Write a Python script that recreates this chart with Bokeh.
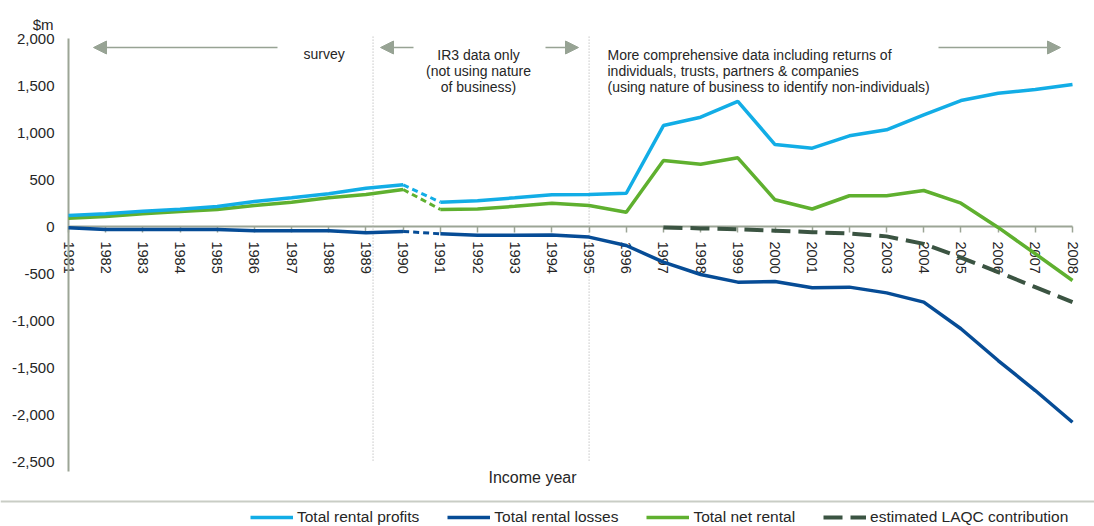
from bokeh.plotting import figure
from bokeh.models import (LinearAxis, Range1d, FixedTicker, NumeralTickFormatter, Label,
                          Arrow, NormalHead, Legend, LegendItem, Span)
from bokeh.embed import file_html
from bokeh.resources import INLINE

# ---------------- data ----------------
years = list(range(1981, 2009))
year_labels = [str(y) for y in years]
profits = [117, 135, 163, 184, 213, 266, 305, 348, 408, 443,
           259, 275, 305, 337, 340, 354, 1074, 1163, 1330, 872, 833, 965,
           1029, 1188, 1340, 1418, 1457, 1511]
losses = [-14, -32, -32, -32, -32, -46, -46, -46, -67, -53,
          -78, -93, -93, -91, -113, -202, -379, -511, -592, -585, -652, -645,
          -706, -805, -1088, -1426, -1745, -2082]
net = [89, 106, 135, 160, 181, 223, 259, 305, 340, 394,
       181, 185, 215, 248, 223, 152, 702, 663, 731, 284, 186, 327,
       327, 383, 248, -10, -290, -574]
laqc_years = list(range(1997, 2009))
laqc = [-10, -20, -30, -45, -60, -75, -105, -185, -330, -485, -645, -805]
y_ticks = list(range(-2500, 2001, 500))
period_breaks = [1989.19, 1995.0]

# ---------------- geometry (canvas <-> data) ----------------
W, H = 1094, 526
PX_PER_YEAR = (1072 - 68) / 27.0
PX_PER_UNIT = 0.094
x0 = 1981 - 68 / PX_PER_YEAR
x1 = x0 + W / PX_PER_YEAR
y_top = 226 / PX_PER_UNIT
y_bot = y_top - H / PX_PER_UNIT


def X(px):
    return x0 + px / PX_PER_YEAR


def Y(py):
    return y_top - py / PX_PER_UNIT


FONT = "Liberation Sans"
TXT = "#262626"
AXIS = "#9ca596"
ARROW = "#97a394"
C_PROF = "#12ade6"
C_LOSS = "#064c96"
C_NET = "#5fb02f"
C_LAQC = "#3b5442"

p = figure(width=W, height=H, x_range=Range1d(x0, x1), y_range=Range1d(y_bot, y_top),
           x_axis_type=None, y_axis_type=None, toolbar_location=None,
           output_backend="svg", min_border=0, outline_line_color=None)
p.min_border_left = p.min_border_right = p.min_border_top = p.min_border_bottom = 0
p.xgrid.visible = False
p.ygrid.visible = False

# axes
yaxis = LinearAxis(fixed_location=1981, bounds=(-2610, 2000),
                   ticker=FixedTicker(ticks=y_ticks),
                   formatter=NumeralTickFormatter(format="0,0"))
yaxis.axis_line_color = AXIS
yaxis.axis_line_width = 2
yaxis.major_tick_line_color = None
yaxis.minor_tick_line_color = None
yaxis.major_tick_out = 0
yaxis.major_tick_in = 0
yaxis.major_label_standoff = 14
yaxis.major_label_text_font = FONT
yaxis.major_label_text_font_size = "15px"
yaxis.major_label_text_color = TXT
yaxis.level = "underlay"
p.add_layout(yaxis, "left")

xaxis = LinearAxis(fixed_location=0, bounds=(1981, 2008),
                   ticker=FixedTicker(ticks=years),
                   major_label_overrides={y: s for y, s in zip(years, year_labels)})
xaxis.axis_line_color = AXIS
xaxis.axis_line_width = 2
xaxis.major_tick_line_color = AXIS
xaxis.major_tick_line_width = 1.5
xaxis.minor_tick_line_color = None
xaxis.major_tick_out = 6
xaxis.major_tick_in = 0
xaxis.major_label_standoff = 9
xaxis.major_label_orientation = "vertical"
xaxis.major_label_text_font = FONT
xaxis.major_label_text_font_size = "14.5px"
xaxis.major_label_text_color = TXT
xaxis.level = "underlay"
p.add_layout(xaxis, "below")

# period separators
p.segment(x0=period_breaks, y0=[2020] * 2, x1=period_breaks, y1=[-2500] * 2,
          line_color="#a9a9a9", line_width=1, line_dash="1 2")

# series
A, B = slice(0, 10), slice(10, None)
D = slice(9, 11)
r_laqc = p.line(laqc_years, laqc, line_color=C_LAQC, line_width=4, line_dash="19 8")
r_net = p.line(years[A], net[A], line_color=C_NET, line_width=3.5)
p.line(years[B], net[B], line_color=C_NET, line_width=3.5)
p.line(years[D], net[D], line_color=C_NET, line_width=3, line_dash="6 4")
r_prof = p.line(years[A], profits[A], line_color=C_PROF, line_width=3.5)
p.line(years[B], profits[B], line_color=C_PROF, line_width=3.5)
p.line(years[D], profits[D], line_color=C_PROF, line_width=3, line_dash="6 4")
r_loss = p.line(years[A], losses[A], line_color=C_LOSS, line_width=3.5)
p.line(years[B], losses[B], line_color=C_LOSS, line_width=3.5)
p.line(years[D], losses[D], line_color=C_LOSS, line_width=3, line_dash="6 4")

# arrows
head = dict(size=13, fill_color=ARROW, line_color=ARROW)
for xs, xe in [(277, 93), (413, 380), (545, 578), (938, 1060)]:
    p.add_layout(Arrow(end=NormalHead(**head), x_start=X(xs), y_start=Y(47),
                       x_end=X(xe), y_end=Y(47), line_color=ARROW, line_width=1.5))


def lab(text, px, py, align="left", size="14px"):
    p.add_layout(Label(x=X(px), y=Y(py), text=text, text_align=align,
                       text_baseline="alphabetic", text_font=FONT,
                       text_font_size=size, text_color=TXT))


lab("$m", 53, 24, "right", "15px")
lab("survey", 303, 53)
lab("IR3 data only", 478, 54, "center")
lab("(not using nature", 478, 70, "center")
lab("of business)", 478, 86.5, "center")
lab("More comprehensive data including returns of", 607, 54)
lab("individuals, trusts, partners & companies", 607, 70)
lab("(using nature of business to identify non-individuals)", 607, 86)
lab("Income year", 532, 477, "center", "16px")

# separator above legend
p.add_layout(Span(location=Y(501), dimension="width", line_color="#c9cdc5", line_width=2))

legend = Legend(items=[LegendItem(label="Total rental profits", renderers=[r_prof]),
                       LegendItem(label="Total rental losses", renderers=[r_loss]),
                       LegendItem(label="Total net rental", renderers=[r_net]),
                       LegendItem(label="estimated LAQC contribution", renderers=[r_laqc])],
                location=(250, -1), orientation="horizontal",
                glyph_width=43, glyph_height=20, label_height=20, label_standoff=4,
                spacing=28, padding=0, margin=0, border_line_color=None,
                background_fill_alpha=0, label_text_font=FONT,
                label_text_font_size="15.5px", label_text_color=TXT)
p.add_layout(legend)

open("out.html", "w").write(file_html(p, INLINE))
